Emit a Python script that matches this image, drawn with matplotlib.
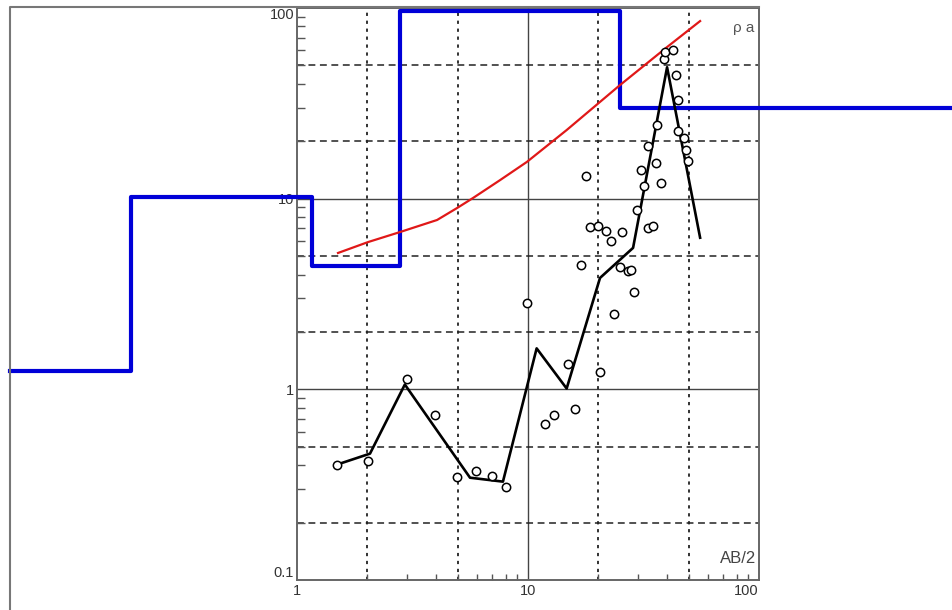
import matplotlib.pyplot as plt
from matplotlib.lines import Line2D
from matplotlib.ticker import FixedLocator, LogLocator, NullFormatter

plt.rcParams['font.family'] = ['Liberation Sans', 'DejaVu Sans']

# --- layered model (blue step) ---
layer_x = [0.057, 0.191, 1.16, 2.79, 25.0, 700.0]
layer_rho = [1.25, 10.25, 4.45, 96.0, 30.0]

# --- computed curve (red) ---
calc_ab2 = [1.505, 2.03, 2.79, 4.04, 4.93, 5.78, 7.56, 9.9, 14.7, 25.0, 40.0, 55.6]
calc_rho = [5.19, 5.92, 6.68, 7.73, 8.93, 10.08, 12.5, 15.6, 22.9, 39.4, 62.4, 85.4]

# --- smoothed field curve (black) ---
smooth_ab2 = [1.49, 2.07, 2.93, 5.61, 7.79, 10.9, 14.7, 20.5, 28.5, 40.0, 55.6]
smooth_rho = [0.403, 0.46, 1.06, 0.344, 0.328, 1.64, 1.01, 3.84, 5.52, 48.9, 6.24]

# --- field measurements (open circles) ---
obs_ab2 = [1.49, 2.02, 2.99, 3.96, 4.94, 5.94, 7.01, 8.03, 9.93, 11.85,
           13.0, 15.9, 14.85, 20.5, 23.6, 28.9, 16.9, 24.9, 27.2, 27.9,
           18.55, 20.0, 21.7, 22.9, 25.6, 33.2, 34.7, 29.7, 17.8, 31.9,
           37.7, 30.8, 35.7, 33.2, 36.3, 38.8, 39.2, 42.3, 43.7, 44.7,
           44.7, 47.4, 48.2, 49.3]
obs_rho = [0.40, 0.42, 1.13, 0.73, 0.345, 0.375, 0.35, 0.309, 2.83, 0.66,
           0.73, 0.785, 1.35, 1.23, 2.48, 3.23, 4.49, 4.37, 4.18, 4.23,
           7.06, 7.21, 6.79, 6.01, 6.65, 7.01, 7.21, 8.68, 13.1, 11.7,
           12.1, 14.2, 15.3, 19.0, 24.3, 53.9, 58.9, 60.1, 44.6, 32.8,
           22.6, 20.9, 18.1, 15.7]

x_major = [1, 10, 100]
y_major = [0.1, 1, 10, 100]
grid_minor = [2, 5, 20, 50]
grid_minor_y = [0.2, 0.5, 2, 5, 20, 50]

fig = plt.figure(figsize=(9.53, 6.10), dpi=100)
ax = fig.add_axes([297 / 953, 1 - 580 / 610, 462 / 953, 572 / 610])
ax.set_xscale('log')
ax.set_yscale('log')
ax.set_xlim(1, 100)
ax.set_ylim(0.1, 100)

# grid
for v in x_major[1:-1]:
    ax.axvline(v, color='#444444', lw=1.0, zorder=1)
for v in y_major[1:-1]:
    ax.axhline(v, color='#444444', lw=1.0, zorder=1)
for v in grid_minor:
    ax.axvline(v, color='#222222', lw=1.3, ls=(0, (1.8, 2.6)), zorder=1)
for v in grid_minor_y:
    ax.axhline(v, color='#222222', lw=1.1, ls=(0, (4.5, 3.0)), zorder=1)

# curves
ax.plot(layer_x, layer_rho + [layer_rho[-1]], drawstyle='steps-post',
        color='#0000d8', lw=3.0, clip_on=False, zorder=5)
ax.plot(calc_ab2, calc_rho, color='#e01818', lw=1.6, zorder=6)
ax.plot(smooth_ab2, smooth_rho, color='black', lw=1.9, zorder=7)
ax.plot(obs_ab2, obs_rho, 'o', ms=6, mfc='white', mec='black', mew=1.1,
        zorder=8)

# axes styling
for s in ax.spines.values():
    s.set_color('#666666')
    s.set_linewidth(1.4)

ax.xaxis.set_major_locator(FixedLocator(x_major))
ax.yaxis.set_major_locator(FixedLocator(y_major))
ax.set_xticklabels([str(v) for v in x_major])
ax.set_yticklabels(['0.1', '1', '10', '100'])
ax.xaxis.set_minor_locator(LogLocator(base=10, subs=range(2, 10)))
ax.yaxis.set_minor_locator(LogLocator(base=10, subs=range(2, 10)))
ax.xaxis.set_minor_formatter(NullFormatter())
ax.yaxis.set_minor_formatter(NullFormatter())
ax.tick_params(which='major', length=0, pad=3, labelsize=10.5,
               labelcolor='#333333')
ax.tick_params(axis='y', which='major', pad=2)
ax.tick_params(which='minor', direction='in', length=6, width=1.0,
               color='#555555')
ax.tick_params(axis='x', which='minor', length=4)

xl = ax.get_xticklabels()
xl[-1].set_ha('right')
yl = ax.get_yticklabels()
yl[0].set_va('bottom')
yl[-1].set_va('top')

ax.text(0.991, 0.965, 'ρ a', transform=ax.transAxes, ha='right', va='center',
        fontsize=11, color='#555555')
ax.text(0.993, 0.037, 'AB/2', transform=ax.transAxes, ha='right',
        va='center', fontsize=12, color='#444444')

# outer frame
fig.add_artist(Line2D([10 / 953, 10 / 953, 759 / 953], [0, 1 - 7 / 610, 1 - 7 / 610],
                      color='#777777', lw=1.5, transform=fig.transFigure))

fig.savefig('out.png', dpi=100)
